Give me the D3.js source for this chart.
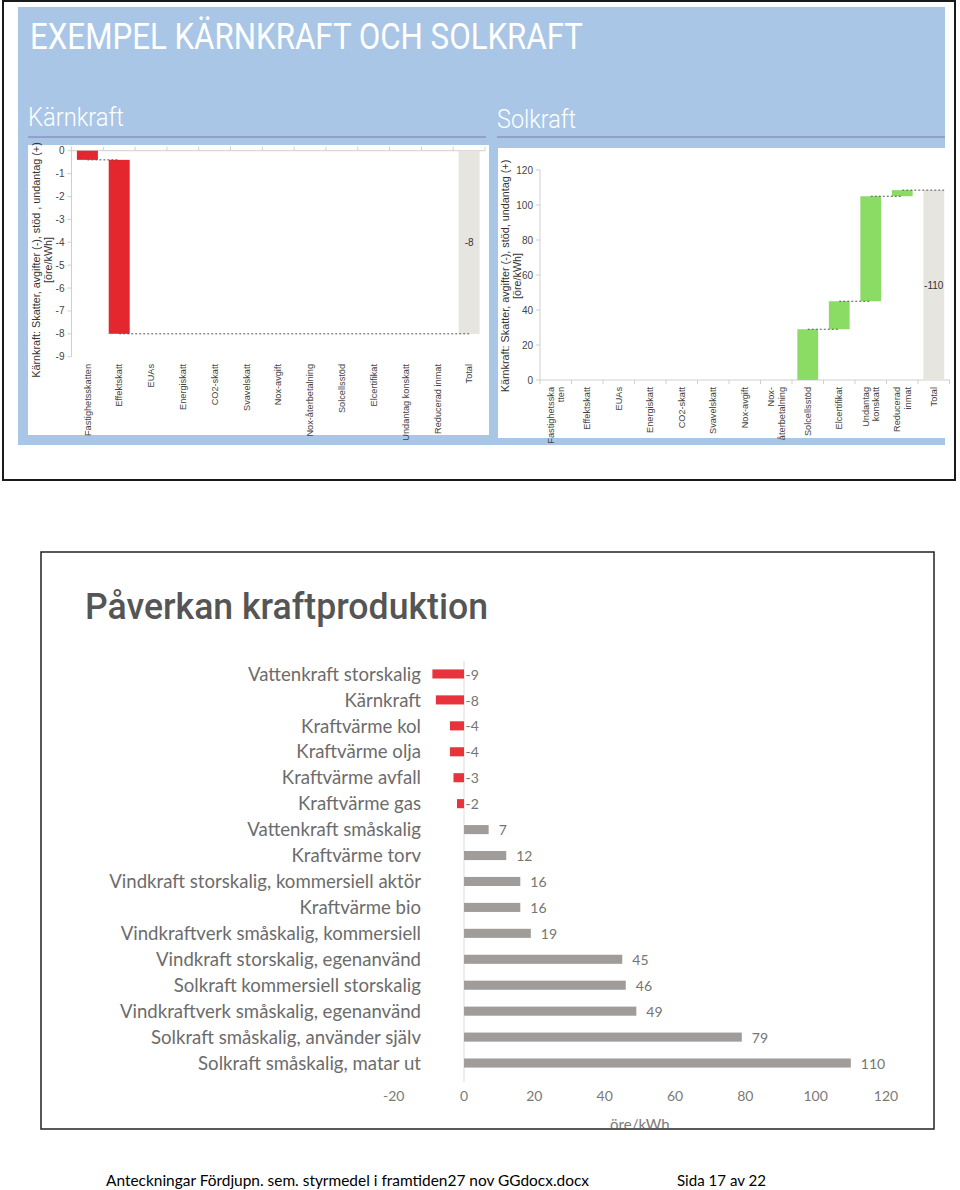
<!DOCTYPE html>
<html><head><meta charset="utf-8">
<script src="https://cdn.jsdelivr.net/npm/d3@7"></script>
<style>body{margin:0;background:#fff}svg{display:block}</style>
</head><body>
<svg id="c" width="960" height="1190"></svg>
<script>
// ---------- DATA ----------
const nuclearCategoryLines = [["Fastighetsskatten"],["Effektskatt"],["EUAs"],["Energiskatt"],["CO2-skatt"],["Svavelskatt"],["Nox-avgift"],["Nox-återbetalning"],["Solcellsstöd"],["Elcertifikat"],["Undantag konskatt"],["Reducerad inmat"],["Total"]];
const solarCategoryLines = [["Fastighetsska","tten"],["Effektskatt"],["EUAs"],["Energiskatt"],["CO2-skatt"],["Svavelskatt"],["Nox-avgift"],["Nox-","återbetalning"],["Solcellsstöd"],["Elcertifikat"],["Undantag","konskatt"],["Reducerad","inmat"],["Total"]];
const nuclearSteps = [-0.4, -7.6, 0, 0, 0, 0, 0, 0, 0, 0, 0, 0];
const nuclearTotalLabel = "-8";
const nuclearTicks = [0, -1, -2, -3, -4, -5, -6, -7, -8, -9];
const solarSteps = [0, 0, 0, 0, 0, 0, 0, 0, 29, 16, 60, 3.5];
const solarTotalLabel = "-110";
const solarTicks = [0, 20, 40, 60, 80, 100, 120];

const powerCategories = ["Vattenkraft storskalig","Kärnkraft","Kraftvärme kol","Kraftvärme olja","Kraftvärme avfall","Kraftvärme gas","Vattenkraft småskalig","Kraftvärme torv","Vindkraft storskalig, kommersiell aktör","Kraftvärme bio","Vindkraftverk småskalig, kommersiell","Vindkraft storskalig, egenanvänd","Solkraft kommersiell storskalig","Vindkraftverk småskalig, egenanvänd","Solkraft småskalig, använder själv","Solkraft småskalig, matar ut"];
const powerValues = [-9, -8, -4, -4, -3, -2, 7, 12, 16, 16, 19, 45, 46, 49, 79, 110];
const powerTicks = [-20, 0, 20, 40, 60, 80, 100, 120];

// ---------- DRAWING ----------
const svg = d3.select("#c");
const narrow = "'Liberation Sans Narrow','Arial Narrow','Liberation Sans',Arial,sans-serif";

// top slide frame
svg.append("rect").attr("x", 3).attr("y", 1).attr("width", 952).attr("height", 479)
  .attr("fill", "none").attr("stroke", "#1a1a1a").attr("stroke-width", 2);
svg.append("rect").attr("x", 18).attr("y", 7).attr("width", 927).attr("height", 438).attr("fill", "#a9c6e6");
svg.append("text").attr("x", 30).attr("y", 49).attr("font-family", "Roboto, sans-serif").attr("font-size", 37)
  .attr("fill", "#fff").attr("textLength", 553).attr("lengthAdjust", "spacingAndGlyphs")
  .text("EXEMPEL KÄRNKRAFT OCH SOLKRAFT");
svg.append("text").attr("x", 28).attr("y", 126).attr("font-family", "Roboto, sans-serif").attr("font-weight", 300)
  .attr("font-size", 26).attr("fill", "#fff").attr("textLength", 96).attr("lengthAdjust", "spacingAndGlyphs").text("Kärnkraft");
svg.append("text").attr("x", 497).attr("y", 128).attr("font-family", "Roboto, sans-serif").attr("font-weight", 300)
  .attr("font-size", 26).attr("fill", "#fff").attr("textLength", 79).attr("lengthAdjust", "spacingAndGlyphs").text("Solkraft");
svg.append("line").attr("x1", 28).attr("x2", 486).attr("y1", 137).attr("y2", 137).attr("stroke", "#8d93bd").attr("stroke-width", 1.5);
svg.append("line").attr("x1", 497).attr("x2", 945).attr("y1", 137).attr("y2", 137).attr("stroke", "#8d93bd").attr("stroke-width", 1.5);
svg.append("rect").attr("x", 28).attr("y", 145).attr("width", 461).attr("height", 290).attr("fill", "#fff");
svg.append("rect").attr("x", 498).attr("y", 148).attr("width", 447).attr("height", 290).attr("fill", "#fff");

function drawWaterfall(cfg) {
  const n = cfg.steps.length + 1;
  const x = d3.scaleBand().domain(d3.range(n)).range(cfg.xRange).paddingInner(0.34).paddingOuter(0.17);
  const y = d3.scaleLinear().domain(cfg.yDomain).range(cfg.yRange);
  const g = svg.append("g");
  const axisColor = "#cfcfcf";
  // y axis
  g.append("line").attr("x1", cfg.xRange[0]).attr("x2", cfg.xRange[0])
    .attr("y1", y(cfg.yDomain[0])).attr("y2", y(cfg.yDomain[1])).attr("stroke", axisColor);
  g.selectAll(".yt").data(cfg.ticks).join("line").attr("x1", cfg.xRange[0] - 4).attr("x2", cfg.xRange[0])
    .attr("y1", d => y(d)).attr("y2", d => y(d)).attr("stroke", axisColor);
  g.selectAll(".yl").data(cfg.ticks).join("text").attr("x", cfg.xRange[0] - 7).attr("y", d => y(d))
    .attr("dy", "0.35em").attr("text-anchor", "end").attr("font-family", "'Liberation Sans',Arial,sans-serif")
    .attr("font-size", 10).attr("fill", "#444").text(d => d);
  // x axis at zero
  g.append("line").attr("x1", cfg.xRange[0]).attr("x2", cfg.xRange[1]).attr("y1", y(0)).attr("y2", y(0)).attr("stroke", axisColor);
  g.selectAll(".xt").data(d3.range(n + 1)).join("line")
    .attr("x1", i => cfg.xRange[0] + i * x.step()).attr("x2", i => cfg.xRange[0] + i * x.step())
    .attr("y1", y(0)).attr("y2", y(0) + 4 * cfg.tickDir).attr("stroke", axisColor);
  // bars
  let cum = 0;
  const segs = cfg.steps.map((v, i) => { const s = cum; cum += v; return { i, s, e: cum, v }; });
  const total = cum;
  const bars = segs.filter(d => d.v !== 0);
  g.selectAll(".bar").data(bars).join("rect")
    .attr("x", d => x(d.i)).attr("width", x.bandwidth())
    .attr("y", d => Math.min(y(d.s), y(d.e))).attr("height", d => Math.abs(y(d.s) - y(d.e)))
    .attr("fill", cfg.color);
  const tot = { i: n - 1, s: 0, e: total, total: true };
  g.append("rect").attr("x", x(tot.i)).attr("width", x.bandwidth())
    .attr("y", Math.min(y(0), y(total))).attr("height", Math.abs(y(0) - y(total))).attr("fill", "#e6e5e0");
  const chain = bars.concat([tot]);
  const conns = chain.slice(0, -1).map((d, k) => ({
    x1: x(d.i) + x.bandwidth() / 2,
    x2: chain[k + 1].total ? x(chain[k + 1].i) + x.bandwidth() * cfg.totalReach : x(chain[k + 1].i) + x.bandwidth() / 2,
    level: d.e
  }));
  g.selectAll(".conn").data(conns).join("line").attr("x1", d => d.x1).attr("x2", d => d.x2)
    .attr("y1", d => y(d.level)).attr("y2", d => y(d.level))
    .attr("stroke", "#555").attr("stroke-dasharray", "2,2").attr("stroke-width", 1);
  g.append("text").attr("x", x(tot.i) + x.bandwidth() / 2).attr("y", y(total / 2)).attr("dy", "0.35em")
    .attr("text-anchor", "middle").attr("font-family", "'Liberation Sans',Arial,sans-serif").attr("font-size", 10)
    .attr("fill", "#333").text(cfg.totalLabel);
  // category labels (rotated)
  const lab = g.selectAll(".xl").data(cfg.lines).join("text")
    .attr("transform", (d, i) => `translate(${x(i) + x.bandwidth() / 2},${cfg.labelTop}) rotate(-90)`)
    .attr("text-anchor", "end").attr("font-family", narrow).attr("font-size", 9.2).attr("fill", "#444");
  lab.selectAll("tspan").data(d => d.map((t, k) => ({ t, k, m: d.length }))).join("tspan")
    .attr("x", 0).attr("y", d => ((d.k - (d.m - 1) / 2) * 1.15 + 0.35) + "em").text(d => d.t);
  // y axis title
  cfg.title.forEach((t, k) => {
    g.append("text").attr("transform", `translate(${cfg.titleX[k]},${cfg.titleY}) rotate(-90)`)
      .attr("dy", "0.35em").attr("text-anchor", "middle").attr("font-family", narrow)
      .attr("font-size", 10.8).attr("fill", "#333").text(t);
  });
}

drawWaterfall({
  steps: nuclearSteps, lines: nuclearCategoryLines, totalLabel: nuclearTotalLabel, ticks: nuclearTicks,
  xRange: [71.5, 485], yDomain: [-9, 0], yRange: [356.7, 150.7], color: "#e4262f", tickDir: -1,
  labelTop: 364, totalReach: 0.5,
  title: ["Kärnkraft: Skatter, avgifter (-), stöd , undantag (+)", "[öre/kWh]"], titleX: [36, 48], titleY: 260
});
drawWaterfall({
  steps: solarSteps, lines: solarCategoryLines, totalLabel: solarTotalLabel, ticks: solarTicks,
  xRange: [540, 949.5], yDomain: [0, 120], yRange: [380, 170], color: "#8bdc64", tickDir: 1,
  labelTop: 387, totalReach: 1,
  title: ["Kärnkraft: Skatter, avgifter (-), stöd, undantag (+)", "[öre/kWh]"], titleX: [505, 517], titleY: 276
});

// ---------- bottom chart ----------
svg.append("defs").append("clipPath").attr("id", "boxclip")
  .append("rect").attr("x", 41).attr("y", 552).attr("width", 893).attr("height", 576);
const gb = svg.append("g").attr("clip-path", "url(#boxclip)");
gb.append("text").attr("x", 85).attr("y", 619).attr("font-family", "Roboto, sans-serif").attr("font-weight", 500)
  .attr("font-size", 36).attr("fill", "#555").attr("textLength", 403).attr("lengthAdjust", "spacingAndGlyphs")
  .text("Påverkan kraftproduktion");

const xB = d3.scaleLinear().domain([-20, 120]).range([393.7, 886]);
const yB = d3.scaleBand().domain(powerCategories).range([661, 1076]).paddingInner(0.65).paddingOuter(0.325);
const lato = "Lato, 'Open Sans', sans-serif";

gb.append("line").attr("x1", xB(0)).attr("x2", xB(0)).attr("y1", 661).attr("y2", 1082).attr("stroke", "#dcdcdc");
gb.selectAll(".pb").data(powerValues).join("rect")
  .attr("x", d => xB(Math.min(0, d))).attr("width", d => Math.abs(xB(d) - xB(0)))
  .attr("y", (d, i) => yB(powerCategories[i])).attr("height", yB.bandwidth())
  .attr("fill", d => d < 0 ? "#e8323c" : "#a09c9a");
gb.selectAll(".pc").data(powerCategories).join("text")
  .attr("x", 421).attr("y", d => yB(d) + yB.bandwidth() / 2).attr("dy", "0.36em")
  .attr("text-anchor", "end").attr("font-family", lato).attr("font-size", 18.6).attr("fill", "#6c6c6c").text(d => d);
gb.selectAll(".pv").data(powerValues).join("text")
  .attr("x", d => d < 0 ? xB(0) + 1.5 : xB(d) + 10)
  .attr("y", (d, i) => yB(powerCategories[i]) + yB.bandwidth() / 2).attr("dy", "0.4em")
  .attr("font-family", lato).attr("font-size", 14).attr("fill", "#757575").text(d => d);
gb.selectAll(".pt").data(powerTicks).join("text")
  .attr("x", d => xB(d)).attr("y", 1100.5).attr("text-anchor", "middle")
  .attr("font-family", lato).attr("font-size", 14).attr("fill", "#7a7a7a").text(d => d);
gb.append("text").attr("x", d3.mean(xB.range())).attr("y", 1130).attr("text-anchor", "middle")
  .attr("font-family", lato).attr("font-size", 15).attr("fill", "#7a7a7a").text("öre/kWh");
svg.append("rect").attr("x", 41).attr("y", 552).attr("width", 893).attr("height", 577)
  .attr("fill", "none").attr("stroke", "#222").attr("stroke-width", 1.5);

// footer
svg.append("text").attr("x", 106).attr("y", 1186).attr("font-family", lato).attr("font-size", 16).attr("fill", "#000")
  .attr("textLength", 483).attr("lengthAdjust", "spacingAndGlyphs")
  .text("Anteckningar Fördjupn. sem. styrmedel i framtiden27 nov GGdocx.docx");
svg.append("text").attr("x", 677).attr("y", 1186).attr("font-family", lato).attr("font-size", 16).attr("fill", "#000")
  .attr("textLength", 89).attr("lengthAdjust", "spacingAndGlyphs").text("Sida 17 av 22");
</script>
</body></html>
